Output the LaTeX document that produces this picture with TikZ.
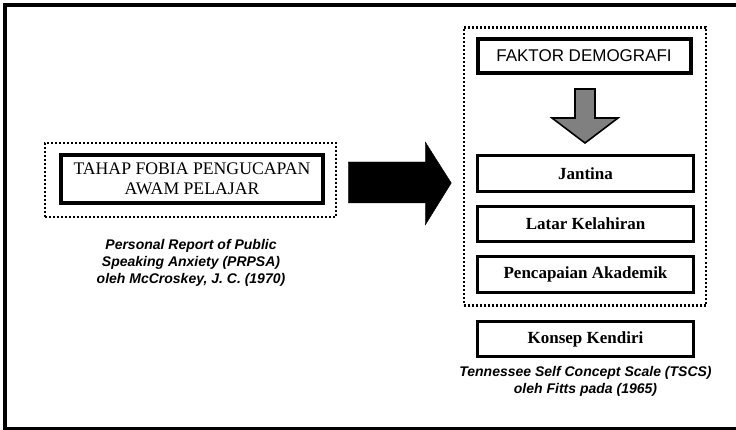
\documentclass[tikz,border=0pt]{standalone}
\usepackage{fontspec}
\setmainfont{Liberation Serif}
\setsansfont{Liberation Sans}
\usetikzlibrary{positioning}

\tikzset{
  dotbox/.style={draw, line width=2.5pt, dash pattern=on 2pt off 2pt},
  mainbox/.style={draw, line width=4pt, align=center, inner sep=0pt},
  itembox/.style={draw, line width=3pt, minimum width=216pt, minimum height=35.5pt,
    inner sep=0pt, font=\fontsize{17}{19}\selectfont\bfseries},
  source/.style={align=center, inner sep=0pt,
    font=\sffamily\bfseries\itshape\fontsize{14}{17}\selectfont}
}

\begin{document}
\begin{tikzpicture}[x=1pt,y=-1pt]
\useasboundingbox (0,0) rectangle (736,430);
\draw[line width=4pt] (5,428) -- (5,5) -- (736,5);
\draw[line width=3pt] (3,428.5) -- (736,428.5);

% left side
\node[dotbox, minimum width=291pt, minimum height=74pt] (lframe) at (190.5,180) {};
\node[mainbox, minimum width=262pt, minimum height=48pt,
  font=\fontsize{17.7}{19.5}\selectfont] (fobia) at (192,179)
  {TAHAP FOBIA PENGUCAPAN\\AWAM PELAJAR};
\node[source] (prpsa) at (191,262.5)
  {Personal Report of Public\\Speaking Anxiety (PRPSA)\\oleh McCroskey, J. C. (1970)};

% right side
\node[dotbox, minimum width=242pt, minimum height=278pt] (rframe) at (585,166.5) {};
\node[mainbox, minimum width=213pt, minimum height=34pt,
  font=\sffamily\fontsize{17}{19}\selectfont] (faktor) at (584,56) {FAKTOR DEMOGRAFI};
\node[itembox] (jantina) at (585.5,173.5) {Jantina};
\node[itembox, below=12pt of jantina] (latar) {Latar Kelahiran};
\node[itembox, below=12pt of latar] (capai) {Pencapaian Akademik};
\node[itembox, below=26pt of capai] (konsep) {Konsep Kendiri};
\node[source, below=8pt of konsep] (tscs)
  {Tennessee Self Concept Scale (TSCS)\\oleh Fitts pada (1965)};

% arrows
\draw[fill=black] (lframe.east) ++(11,-18) -- ++(77,0) -- ++(0,-20) -- ++(26,41)
  -- ++(-26,42) -- ++(0,-22) -- ++(-77,0) -- cycle;
\draw[fill=gray, line width=1.6pt] (faktor.south) ++(-9,14) -- ++(20,0) -- ++(0,29)
  -- ++(23,0) -- ++(-33,25) -- ++(-33,-25) -- ++(23,0) -- cycle;
\end{tikzpicture}
\end{document}
